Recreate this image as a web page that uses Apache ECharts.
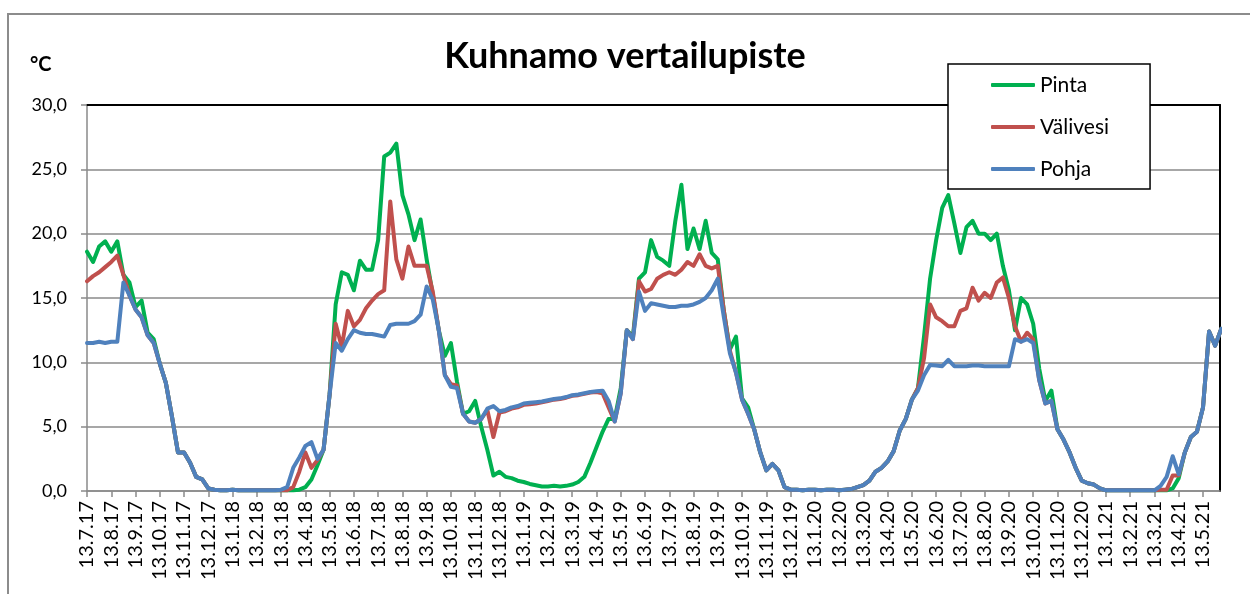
<!DOCTYPE html>
<html lang="fi">
<head>
<meta charset="UTF-8">
<title>Kuhnamo vertailupiste</title>
<script src="https://cdn.jsdelivr.net/npm/echarts@6.0.0/dist/echarts.min.js"></script>
<style>
  html, body { margin: 0; padding: 0; background: #fff; }
  #viz { width: 1250px; height: 594px; }
</style>
</head>
<body>
<div id="viz"></div>
<script>
// month tick labels (one per month from 13.7.17)
const monthLabels = [
  '13.7.17', '13.8.17', '13.9.17', '13.10.17', '13.11.17', '13.12.17',
  '13.1.18', '13.2.18', '13.3.18', '13.4.18', '13.5.18', '13.6.18',
  '13.7.18', '13.8.18', '13.9.18', '13.10.18', '13.11.18', '13.12.18',
  '13.1.19', '13.2.19', '13.3.19', '13.4.19', '13.5.19', '13.6.19',
  '13.7.19', '13.8.19', '13.9.19', '13.10.19', '13.11.19', '13.12.19',
  '13.1.20', '13.2.20', '13.3.20', '13.4.20', '13.5.20', '13.6.20',
  '13.7.20', '13.8.20', '13.9.20', '13.10.20', '13.11.20', '13.12.20',
  '13.1.21', '13.2.21', '13.3.21', '13.4.21', '13.5.21'
];

// readings every quarter month, starting 13.7.17
const STEP = 0.25;

const pinta = [
  18.6, 17.8, 19.0, 19.4, 18.6, 19.4, 16.8, 16.2, 14.3, 14.8,
  12.3, 11.8, 9.9, 8.4, 5.8, 3.0, 3.0, 2.2, 1.1, 0.9,
  0.2, 0.1, 0.05, 0.05, 0.1, 0.05, 0.05, 0.05, 0.05, 0.05,
  0.05, 0.05, 0.05, 0.05, 0.05, 0.1, 0.3, 0.9, 2.0, 3.2,
  7.5, 14.5, 17.0, 16.8, 15.6, 17.9, 17.2, 17.2, 19.5, 26.0,
  26.3, 27.0, 23.0, 21.5, 19.5, 21.1, 18.0, 15.3, 12.5, 10.5,
  11.5, 8.5, 6.0, 6.2, 7.0, 5.0, 3.2, 1.2, 1.5, 1.1,
  1.0, 0.8, 0.7, 0.55, 0.45, 0.35, 0.35, 0.4, 0.35, 0.4,
  0.5, 0.7, 1.1, 2.2, 3.4, 4.6, 5.6, 5.6, 8.0, 12.5,
  12.0, 16.5, 17.0, 19.5, 18.2, 17.9, 17.5, 21.0, 23.8, 18.8,
  20.4, 18.8, 21.0, 18.5, 18.0, 14.0, 11.0, 12.0, 7.2, 6.5,
  4.8, 3.0, 1.6, 2.1, 1.6, 0.3, 0.1, 0.1, 0.05, 0.1,
  0.1, 0.05, 0.1, 0.1, 0.05, 0.1, 0.15, 0.3, 0.45, 0.8,
  1.5, 1.8, 2.3, 3.1, 4.7, 5.6, 7.1, 8.0, 12.0, 16.5,
  19.5, 22.0, 23.0, 20.8, 18.5, 20.5, 21.0, 20.0, 20.0, 19.5,
  20.0, 17.5, 15.6, 12.5, 15.0, 14.5, 13.0, 9.5, 7.0, 7.8,
  4.8, 4.0, 3.0, 1.8, 0.8, 0.6, 0.5, 0.2, 0.05, 0.05,
  0.05, 0.05, 0.05, 0.05, 0.05, 0.05, 0.05, 0.05, 0.05, 0.2,
  1.0, 3.0, 4.2, 4.6, 6.5, 12.4, 11.3, 12.6
];

const valivesi = [
  16.3, 16.7, 17.0, 17.4, 17.8, 18.3, 16.8, 15.2, 14.1, 13.5,
  12.1, 11.5, 9.9, 8.4, 5.8, 3.0, 3.0, 2.2, 1.1, 0.9,
  0.2, 0.1, 0.05, 0.05, 0.1, 0.05, 0.05, 0.05, 0.05, 0.05,
  0.05, 0.05, 0.05, 0.05, 0.3, 1.5, 3.0, 1.8, 2.4, 3.2,
  7.5, 13.0, 11.2, 14.0, 12.8, 13.3, 14.2, 14.8, 15.3, 15.6,
  22.5, 18.0, 16.5, 19.0, 17.5, 17.5, 17.5, 15.5, 12.5, 9.0,
  8.3, 8.2, 6.0, 5.4, 5.3, 5.6, 6.3, 4.2, 6.1, 6.2,
  6.4, 6.5, 6.7, 6.75, 6.8, 6.9, 7.0, 7.1, 7.15, 7.25,
  7.4, 7.45, 7.55, 7.65, 7.7, 7.6, 6.5, 5.4, 7.6, 12.5,
  11.8, 16.3, 15.5, 15.7, 16.5, 16.8, 17.0, 16.8, 17.2, 17.8,
  17.5, 18.4, 17.5, 17.3, 17.5, 14.0, 10.9, 9.2, 7.1, 6.0,
  4.8, 3.0, 1.6, 2.1, 1.6, 0.3, 0.1, 0.1, 0.05, 0.1,
  0.1, 0.05, 0.1, 0.1, 0.05, 0.1, 0.15, 0.3, 0.45, 0.8,
  1.5, 1.8, 2.3, 3.1, 4.7, 5.6, 7.1, 8.0, 10.3, 14.5,
  13.5, 13.2, 12.8, 12.8, 14.0, 14.2, 15.8, 14.8, 15.4, 15.0,
  16.2, 16.6, 15.0, 12.8, 11.6, 12.3, 11.8, 8.6, 6.8, 7.0,
  4.8, 4.0, 3.0, 1.8, 0.8, 0.6, 0.5, 0.2, 0.05, 0.05,
  0.05, 0.05, 0.05, 0.05, 0.05, 0.05, 0.05, 0.1, 0.1, 1.2,
  1.2, 3.0, 4.2, 4.6, 6.5, 12.4, 11.3, 12.6
];

const pohja = [
  11.5, 11.5, 11.6, 11.5, 11.6, 11.6, 16.2, 15.2, 14.1, 13.5,
  12.1, 11.5, 9.9, 8.4, 5.8, 3.0, 3.0, 2.2, 1.1, 0.9,
  0.2, 0.1, 0.05, 0.05, 0.1, 0.05, 0.05, 0.05, 0.05, 0.05,
  0.05, 0.05, 0.1, 0.3, 1.8, 2.6, 3.5, 3.8, 2.5, 3.2,
  7.5, 11.5, 10.9, 11.8, 12.5, 12.3, 12.2, 12.2, 12.1, 12.0,
  12.9, 13.0, 13.0, 13.0, 13.2, 13.7, 15.9, 14.9, 12.5, 9.0,
  8.1, 8.0, 6.0, 5.4, 5.3, 5.6, 6.4, 6.6, 6.2, 6.3,
  6.5, 6.6, 6.8, 6.85, 6.9, 6.95, 7.05, 7.15, 7.2, 7.3,
  7.45, 7.5, 7.6, 7.7, 7.75, 7.8, 7.0, 5.4, 7.6, 12.5,
  11.8, 15.5, 14.0, 14.6, 14.5, 14.4, 14.3, 14.3, 14.4, 14.4,
  14.5, 14.7, 15.0, 15.6, 16.5, 13.5, 10.7, 9.2, 7.1, 6.0,
  4.8, 3.0, 1.6, 2.1, 1.6, 0.3, 0.1, 0.1, 0.05, 0.1,
  0.1, 0.05, 0.1, 0.1, 0.05, 0.1, 0.15, 0.3, 0.45, 0.8,
  1.5, 1.8, 2.3, 3.1, 4.7, 5.6, 7.1, 7.8, 9.0, 9.8,
  9.75, 9.7, 10.2, 9.7, 9.7, 9.7, 9.75, 9.75, 9.7, 9.7,
  9.7, 9.7, 9.7, 11.8, 11.6, 11.8, 11.5, 8.6, 6.8, 7.0,
  4.8, 4.0, 3.0, 1.8, 0.8, 0.6, 0.5, 0.2, 0.05, 0.05,
  0.05, 0.05, 0.05, 0.05, 0.05, 0.05, 0.05, 0.4, 1.1, 2.7,
  1.3, 3.0, 4.2, 4.6, 6.5, 12.4, 11.3, 12.6
];

const FONT = 'Lato, "Liberation Sans", sans-serif';
const GRID_GREY = '#8a8a8a';

const toPoints = vals => vals.map((v, i) => [i * STEP, v]);

const lineSeries = (name, vals, color) => ({
  name,
  type: 'line',
  data: toPoints(vals),
  showSymbol: false,
  symbol: 'none',
  color,
  lineStyle: { color, width: 4, cap: 'round', join: 'round' },
  clip: true
});

const option = {
  animation: false,
  backgroundColor: '#fff',
  textStyle: { fontFamily: FONT, color: '#000' },
  title: [
    {
      text: 'Kuhnamo vertailupiste',
      left: 'center',
      top: 33,
      textStyle: { fontFamily: FONT, fontSize: 36, fontWeight: 'bold', color: '#000' }
    },
    {
      text: '°C',
      left: 25,
      top: 50,
      textStyle: { fontFamily: FONT, fontSize: 20, fontWeight: 'bold', color: '#000' }
    }
  ],
  legend: {
    orient: 'vertical',
    left: 948,
    top: 64,
    padding: [10, 41, 9, 43],
    itemGap: 20,
    itemWidth: 44,
    itemHeight: 4,
    icon: 'roundRect',
    backgroundColor: '#fff',
    borderColor: '#000',
    borderWidth: 1.5,
    z: 20,
    textStyle: { fontFamily: FONT, fontSize: 21, color: '#000', lineHeight: 22 },
    data: ['Pinta', 'Välivesi', 'Pohja']
  },
  graphic: [{
    type: 'rect',
    shape: { x: 8, y: 14, width: 1300, height: 700 },
    style: { fill: 'none', stroke: '#8c8c8c', lineWidth: 2 },
    silent: true
  }],
  grid: { left: 87, right: 30, top: 105, bottom: 103, outerBoundsMode: 'none' },
  xAxis: [
    {
      type: 'value',
      min: 0,
      max: 46.7,
      interval: 1,
      splitLine: { show: false },
      axisLine: { show: true, onZero: false, lineStyle: { color: GRID_GREY, width: 1.5 } },
      axisTick: { show: true, length: 6, lineStyle: { color: GRID_GREY, width: 1.5 } },
      axisLabel: {
        rotate: 90,
        margin: 10,
        fontFamily: FONT,
        fontSize: 20,
        color: '#000',
        showMaxLabel: false,
        formatter: v => (Number.isInteger(v) && monthLabels[v]) ? monthLabels[v] : ''
      }
    },
    {
      type: 'value',
      position: 'top',
      min: 0,
      max: 46.7,
      splitLine: { show: false },
      axisLine: { show: true, onZero: false, lineStyle: { color: '#000', width: 2 } },
      axisTick: { show: false },
      axisLabel: { show: false }
    }
  ],
  yAxis: [
    {
      type: 'value',
      min: 0,
      max: 30,
      interval: 5,
      axisLine: { show: true, onZero: false, lineStyle: { color: GRID_GREY, width: 1.5 } },
      axisTick: { show: true, length: 6, lineStyle: { color: GRID_GREY, width: 1.5 } },
      splitLine: { show: true, lineStyle: { color: GRID_GREY, width: 1.6 } },
      axisLabel: {
        margin: 20,
        fontFamily: FONT,
        fontSize: 18,
        color: '#000',
        formatter: v => v.toFixed(1).replace('.', ',')
      }
    },
    {
      type: 'value',
      position: 'right',
      min: 0,
      max: 30,
      splitLine: { show: false },
      axisLine: { show: true, onZero: false, lineStyle: { color: '#000', width: 2 } },
      axisTick: { show: false },
      axisLabel: { show: false }
    }
  ],
  series: [
    lineSeries('Pinta', pinta, '#00B050'),
    lineSeries('Välivesi', valivesi, '#C0504D'),
    lineSeries('Pohja', pohja, '#4F81BD')
  ]
};

const chart = echarts.init(document.getElementById('viz'), null, { renderer: 'canvas' });
chart.setOption(option);
window.onresize = () => chart.resize();
</script>
</body>
</html>
